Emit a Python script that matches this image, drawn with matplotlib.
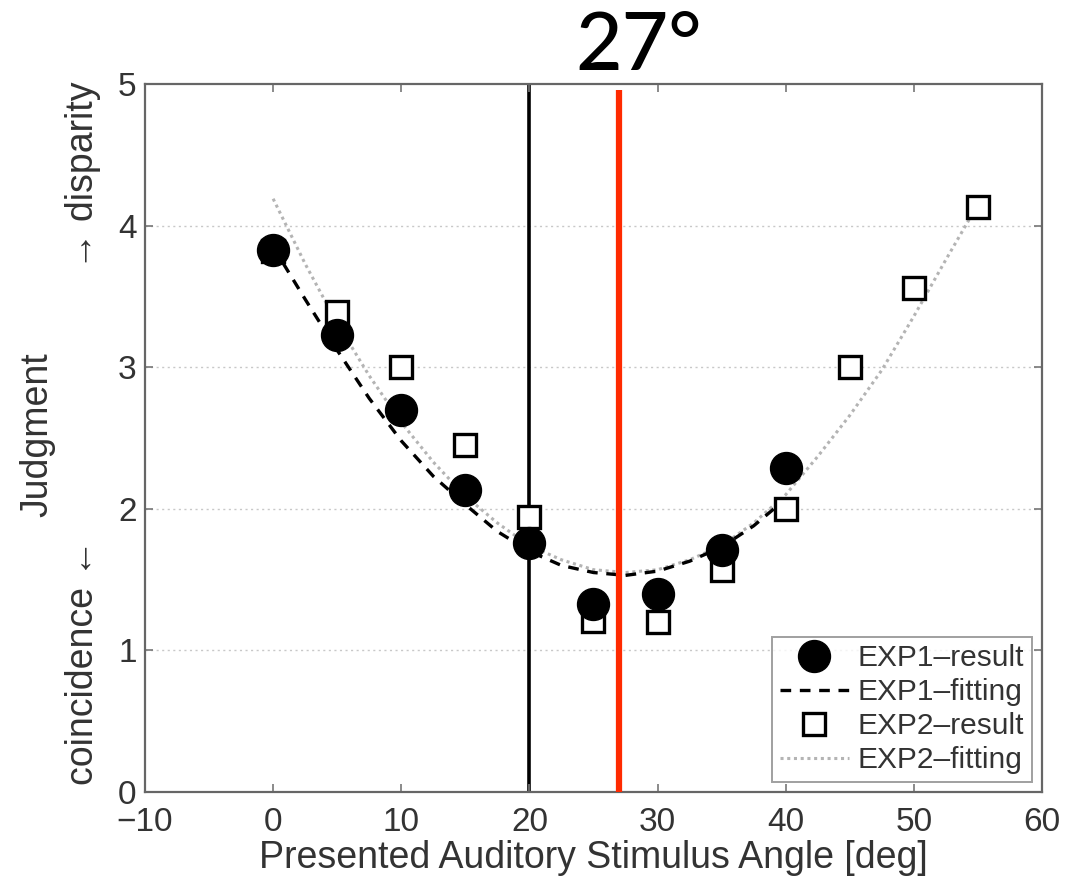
import matplotlib
matplotlib.use("Agg")
import matplotlib.pyplot as plt
import numpy as np

plt.rcParams['font.family'] = ['Liberation Sans', 'DejaVu Sans']

# data
angles = [0, 5, 10, 15, 20, 25, 30, 35, 40]
exp1_result = [3.83, 3.23, 2.70, 2.13, 1.76, 1.33, 1.40, 1.71, 2.29]

angles2 = [0, 5, 10, 15, 20, 25, 30, 35, 40, 45, 50, 55]
exp2_result = [3.82, 3.39, 3.00, 2.45, 1.94, 1.21, 1.20, 1.57, 2.00, 3.00, 3.56, 4.13]

fit1_x = [0, 2.5, 5, 7.5, 10, 12.5, 15, 17.5, 20, 22.5, 25, 27.5, 30, 32.5, 35, 37.5, 40]
fit1_y = [3.85, 3.48, 3.12, 2.78, 2.48, 2.23, 2.03, 1.84, 1.70, 1.60, 1.55, 1.53, 1.56,
          1.63, 1.73, 1.88, 2.07]

fit2_x = [0, 2.5, 5, 7.5, 10, 12.5, 15, 17.5, 20, 22.5, 25, 27.5, 30, 32.5, 35, 37.5,
          40, 42.5, 45, 47.5, 50, 52.5, 55]
fit2_y = [4.19, 3.73, 3.31, 2.94, 2.61, 2.33, 2.09, 1.90, 1.74, 1.64, 1.57, 1.55, 1.57,
          1.64, 1.74, 1.90, 2.10, 2.37, 2.66, 2.98, 3.36, 3.76, 4.15]

stimulus_angle = 20
marked_angle = 27

fig = plt.figure(figsize=(10.86, 8.8), dpi=100)
ax = fig.add_axes([0.1335, 0.1, 0.826, 0.8045])

# grid (horizontal only, matlab style)
for yv in [1, 2, 3, 4]:
    ax.axhline(yv, color='#c8c8c8', lw=1.0, ls=(0, (1.5, 2.5)), zorder=0)

ax.axvline(stimulus_angle, color='black', lw=2.6, zorder=1)

ax.plot(fit2_x, fit2_y, color='#b4b4b4', lw=2.2, ls=(0, (1, 1.2)), label='EXP2\u2013fitting', zorder=2)
ax.plot(fit1_x, fit1_y, color='black', lw=2.4, ls=(0, (3.2, 2.6)), label='EXP1\u2013fitting', zorder=3)
ax.plot(angles2, exp2_result, ls='none', marker='s', ms=16, mfc='white', mec='black',
        mew=2.4, label='EXP2\u2013result', zorder=4)
ax.plot(angles, exp1_result, ls='none', marker='o', ms=23, mfc='black', mec='black',
        label='EXP1\u2013result', zorder=5)

ax.vlines(marked_angle, 0, 4.96, color='#ff2a00', lw=4.5, zorder=6, clip_on=False)

ax.set_xlim(-10, 60)
ax.set_ylim(0, 5)
ax.set_xticks(range(-10, 61, 10))
ax.set_yticks(range(0, 6))
ax.set_xticklabels(['\u221210', '0', '10', '20', '30', '40', '50', '60'])
ax.tick_params(direction='in', top=True, right=True, length=6, width=1.2,
               color='#777777', labelsize=24, labelcolor='#333333')
ax.tick_params(axis='x', pad=11)
ax.tick_params(axis='y', pad=6)
for s in ax.spines.values():
    s.set_color('#666666')
    s.set_linewidth(1.6)

ax.set_xlabel('Presented Auditory Stimulus Angle [deg]', fontsize=27, color='#333333', labelpad=1)

handles, labels = ax.get_legend_handles_labels()
order = [3, 1, 2, 0]
leg = ax.legend([handles[i] for i in order], [labels[i] for i in order], loc='lower right',
                fontsize=21.5, frameon=True, fancybox=False, borderpad=0.25, labelspacing=0.2,
                handlelength=2.3, handletextpad=0.3, borderaxespad=0.35, markerscale=1.0)
leg.get_frame().set_edgecolor('#888888')
leg.get_frame().set_linewidth(1.4)
for t in leg.get_texts():
    t.set_color('#333333')

# y label, two lines
fig.text(0.034, 0.506, 'Judgment', rotation=90, ha='center', va='center', fontsize=27, color='#333333')
fig.text(0.0764, 0.108, 'coincidence \u2190', rotation=90, ha='center', va='bottom', fontsize=27,
         color='#333333')
fig.text(0.0764, 0.907, '\u2192 disparity', rotation=90, ha='center', va='top', fontsize=27,
         color='#333333')

fig.text(0.588, 0.92, '27\u00b0', ha='center', va='baseline', fontsize=58, fontweight='medium',
         family=['Lato', 'DejaVu Sans'], color='black')

fig.savefig('out.png', dpi=100)
